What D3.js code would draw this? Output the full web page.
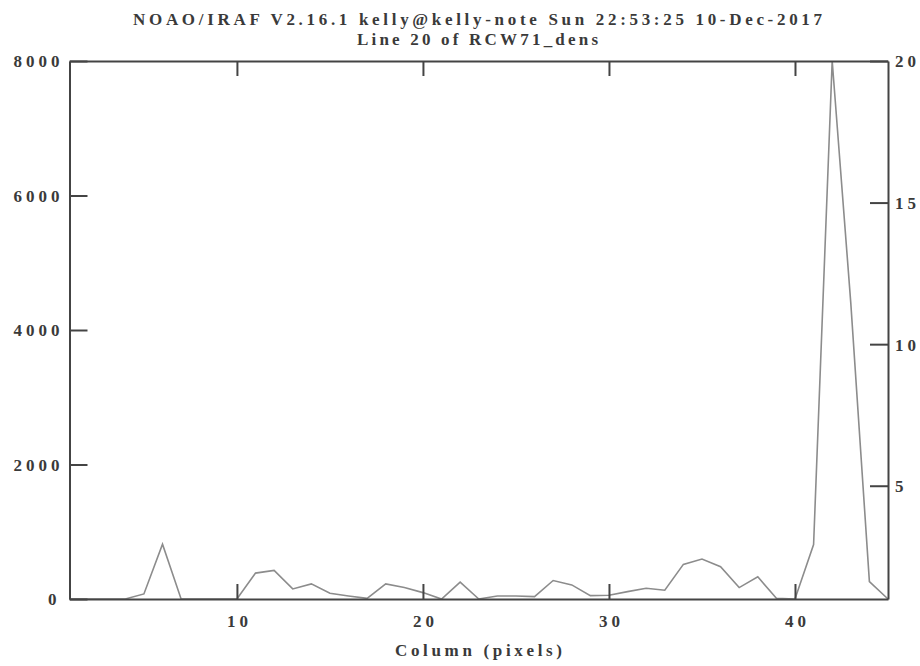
<!DOCTYPE html>
<html>
<head>
<meta charset="utf-8">
<script src="https://cdn.jsdelivr.net/npm/d3@7"></script>
<style>
  html, body { margin: 0; padding: 0; background: #fff; }
  svg { display: block; }
</style>
</head>
<body>
<svg id="plot" width="920" height="666"></svg>
<script>
// Line profile of one image row: column index and measured value
const columns = [1, 2, 3, 4, 5, 6, 7, 8, 9, 10,
                 11, 12, 13, 14, 15, 16, 17, 18, 19, 20,
                 21, 22, 23, 24, 25, 26, 27, 28, 29, 30,
                 31, 32, 33, 34, 35, 36, 37, 38, 39, 40,
                 41, 42, 43, 44, 45];
const values = [0, 0, 0, 0, 75, 815, 0, 0, 0, 0,
                385, 425, 150, 225, 85, 45, 10, 225, 170, 95,
                0, 250, 0, 45, 45, 35, 275, 210, 50, 55,
                110, 160, 130, 515, 595, 480, 170, 330, 10, 0,
                810, 8000, 4400, 260, 0];

const xTicks = [10, 20, 30, 40];
const yTicks = [0, 2000, 4000, 6000, 8000];
const rightTicks = [5, 10, 15, 20];

const titleLine1 = "NOAO/IRAF V2.16.1 kelly@kelly-note Sun 22:53:25 10-Dec-2017";
const titleLine2 = "Line 20 of RCW71_dens";
const xLabel = "Column (pixels)";

const FONT = "Liberation Serif, DejaVu Serif, serif";
const FS = 17;

const svg = d3.select("#plot");
const L = 69.5, R = 888, T = 61, B = 599;
const CH = 11.5; // advance per glyph of the plot font

const x = d3.scaleLinear().domain([1, 45]).range([L, R]);
const y = d3.scaleLinear().domain([0, 8000]).range([B, T]);
const yR = d3.scaleLinear().domain([1, 20]).range([B, T]);

// profile line
const line = d3.line().x((d, i) => x(columns[i])).y(d => y(d));
svg.append("path")
  .datum(values)
  .attr("d", line)
  .attr("fill", "none")
  .attr("stroke", "#8c8c8c")
  .attr("stroke-width", 1.6)
  .attr("stroke-linejoin", "miter");

function styleText(sel) {
  sel.attr("font-family", FONT).attr("font-size", FS).attr("font-weight", "bold")
    .attr("fill", "#3a3a3a");
}

function styleAxis(g) {
  g.selectAll("path.domain").attr("stroke", "#444").attr("stroke-width", 2);
  g.selectAll(".tick line").attr("stroke", "#444").attr("stroke-width", 2);
  styleText(g.selectAll("text"));
}

// left axis
const gL = svg.append("g").attr("transform", `translate(${L},0)`)
  .call(d3.axisLeft(y).tickValues(yTicks).tickSizeInner(-18).tickSizeOuter(0).tickFormat(d3.format("d")));
styleAxis(gL);
gL.selectAll("text").each(function(d) {
  const s = String(d), w = CH * s.length;
  d3.select(this).attr("text-anchor", "start").attr("x", -10 - w).attr("dy", "0.35em")
    .attr("textLength", w).attr("lengthAdjust", "spacing");
});

// right axis
const gR = svg.append("g").attr("transform", `translate(${R},0)`)
  .call(d3.axisRight(yR).tickValues(rightTicks).tickSizeInner(-18).tickSizeOuter(0).tickFormat(d3.format("d")));
styleAxis(gR);
gR.selectAll("text").each(function(d) {
  const s = String(d), w = CH * s.length - 2;
  d3.select(this).attr("text-anchor", "start").attr("x", 7).attr("dy", "0.35em")
    .attr("textLength", w).attr("lengthAdjust", "spacing");
});

// bottom axis
const gB = svg.append("g").attr("transform", `translate(0,${B})`)
  .call(d3.axisBottom(x).tickValues(xTicks).tickSizeInner(-15).tickSizeOuter(0).tickFormat(d3.format("d")));
styleAxis(gB);
gB.selectAll("text").each(function(d) {
  const s = String(d), w = CH * s.length - 2;
  d3.select(this).attr("text-anchor", "start").attr("x", -w / 2).attr("y", 28).attr("dy", 0)
    .attr("textLength", w).attr("lengthAdjust", "spacing");
});

// top axis (ticks only)
const gT = svg.append("g").attr("transform", `translate(0,${T})`)
  .call(d3.axisTop(x).tickValues(xTicks).tickSizeInner(-15).tickSizeOuter(0).tickFormat(""));
styleAxis(gT);

// titles
styleText(svg.append("text").attr("x", 133).attr("y", 25)
  .attr("textLength", 689).attr("lengthAdjust", "spacing").text(titleLine1));
styleText(svg.append("text").attr("x", 357).attr("y", 45)
  .attr("textLength", 241).attr("lengthAdjust", "spacing").text(titleLine2));

// x axis label
styleText(svg.append("text").attr("x", 395).attr("y", 656)
  .attr("textLength", 167).attr("lengthAdjust", "spacing").text(xLabel));
</script>
</body>
</html>
